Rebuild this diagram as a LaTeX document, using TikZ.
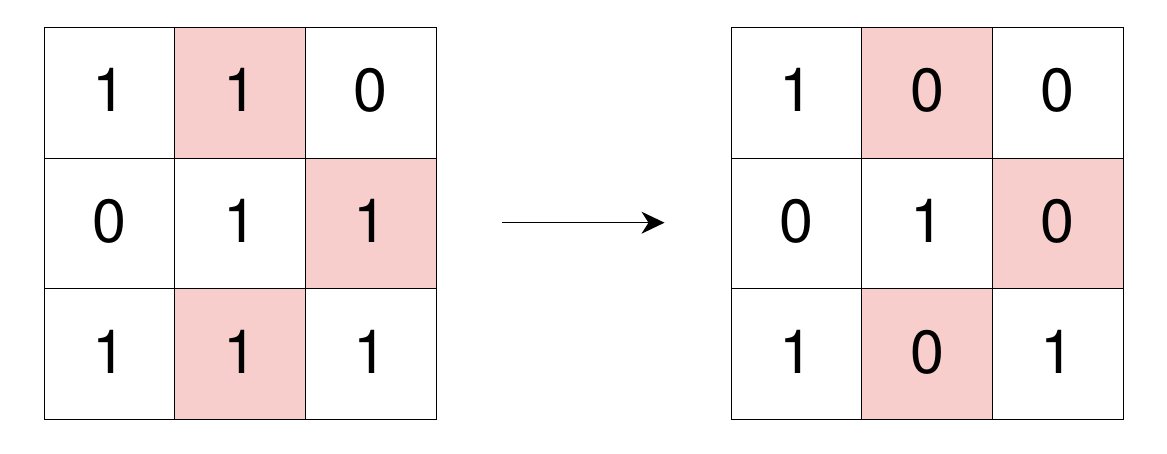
\documentclass[tikz,border=0pt]{standalone}
\usepackage{fontspec}
\setmainfont{TeX Gyre Heros}
\usetikzlibrary{arrows.meta}
\definecolor{hl}{HTML}{F8CECC}
\tikzset{
  cell/.style={draw=black, line width=1pt, minimum width=130.67pt, minimum height=130.67pt, inner sep=0pt, anchor=north west, font=\fontsize{61}{61}\selectfont},
  hot/.style={cell, fill=hl}
}
\newcommand{\dg}[1]{\raisebox{5pt}{#1}}
\tikzset{conn/.style={line width=1.3pt, -{Stealth[length=23pt,width=22pt,inset=7pt]}}}
\begin{document}
\begin{tikzpicture}[x=1pt,y=-1pt]
\useasboundingbox (0,0) rectangle (1167,453);
% left grid
\node[cell] (a11) at (43.7,27) {\dg{1}};
\node[hot]  (a12) at (174.3,27) {\dg{1}};
\node[cell] (a13) at (305,27) {\dg{0}};
\node[cell] (a21) at (43.7,157.7) {\dg{0}};
\node[cell] (a22) at (174.3,157.7) {\dg{1}};
\node[hot]  (a23) at (305,157.7) {\dg{1}};
\node[cell] (a31) at (43.7,288.3) {\dg{1}};
\node[hot]  (a32) at (174.3,288.3) {\dg{1}};
\node[cell] (a33) at (305,288.3) {\dg{1}};
% right grid
\node[cell] (b11) at (730.7,27) {\dg{1}};
\node[hot]  (b12) at (861.3,27) {\dg{0}};
\node[cell] (b13) at (992,27) {\dg{0}};
\node[cell] (b21) at (730.7,157.7) {\dg{0}};
\node[cell] (b22) at (861.3,157.7) {\dg{1}};
\node[hot]  (b23) at (992,157.7) {\dg{0}};
\node[cell] (b31) at (730.7,288.3) {\dg{1}};
\node[hot]  (b32) at (861.3,288.3) {\dg{0}};
\node[cell] (b33) at (992,288.3) {\dg{1}};
% arrow
\coordinate (s) at (501.5,222.7);
\coordinate (e) at (664.5,222.7);
\draw[conn] (s) -- (e);
\end{tikzpicture}
\end{document}
